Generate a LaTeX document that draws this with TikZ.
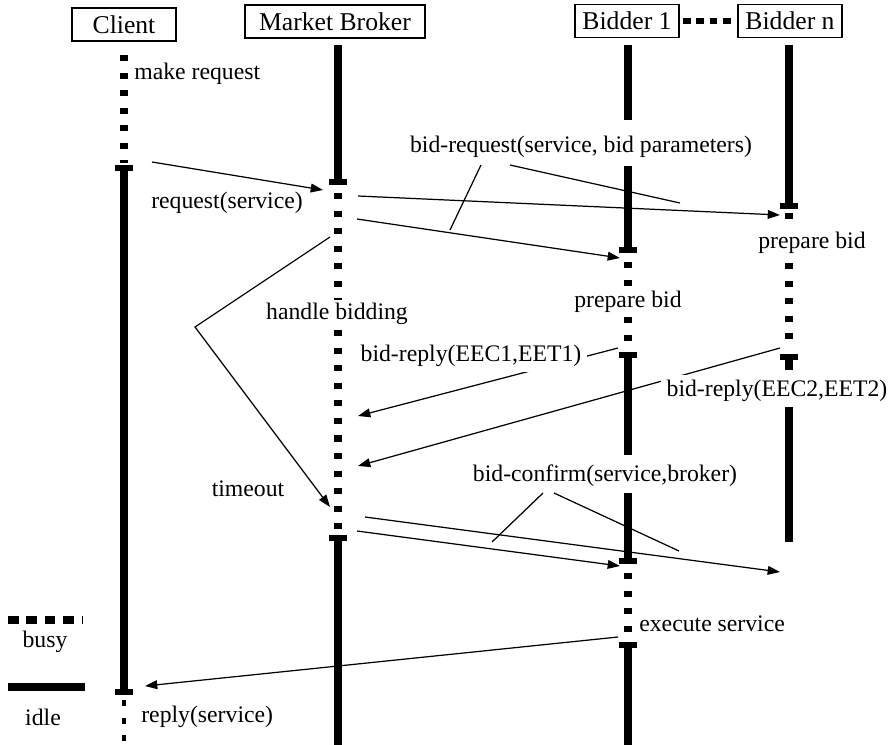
\documentclass[tikz,border=0pt]{standalone}
\usepackage{fontspec}
\setmainfont{Liberation Serif}
\usetikzlibrary{arrows.meta}

\begin{document}
\begin{tikzpicture}[
	x=0.02cm, y=-0.02cm,
	>={Triangle[length=7pt,width=5pt]},
	font=\fontsize{13.5}{16}\selectfont,
	head/.style={draw, line width=0.8pt, inner sep=0pt, minimum height=6.6mm,
		font=\fontsize{14.6}{17}\selectfont},
	idle/.style={line width=4pt},
	busy/.style={line width=4pt, dash pattern=on 3.5pt off 6.5pt},
	tbar/.style={line width=3.4pt},
	msg/.style={->, line width=0.7pt},
	hint/.style={line width=0.7pt},
	txt/.style={anchor=west, inner sep=0pt},
]
	\useasboundingbox (0,0) rectangle (894,745);
	% heads
	\node[head, minimum width=20.8mm] (client) at (124,24.5) {Client};
	\node[head, minimum width=36mm] (broker) at (335,21.5) {Market Broker};
	\node[head, minimum width=20.8mm] (bidA) at (627,21) {Bidder 1};
	\node[head, minimum width=20.8mm] (bidN) at (790,21) {Bidder n};
	\draw[busy, line width=3pt, dash pattern=on 4.5pt off 3pt,
		shorten <=2pt, shorten >=2pt] (bidA) -- (bidN);

	% lifelines
	\foreach \x/\a/\b in {124/168/692, 338/45/182, 338/538/745, 628/45/120,
		628/166/250, 628/355/455, 628/493/561, 628/645/745, 789/45/206,
		789/357/370, 789/407/542}
		\draw[idle] (\x,\a) -- (\x,\b);
	\foreach \x/\a/\b in {124/55/163, 338/193/300, 338/330/530, 628/262/288,
		628/317/345, 628/573/637, 789/213/228, 789/263/345}
		\draw[busy] (\x,\a) -- (\x,\b);
	\draw[busy, line width=1.8pt] (124,700) -- (124,745);
	\foreach \x/\y in {124/168, 124/692, 338/182, 338/538, 628/250, 628/355,
		628/561, 628/645, 789/206, 789/357}
		\draw[tbar] (\x-9,\y) -- (\x+9,\y);

	% messages
	\coordinate (req-s) at (152,162);
	\coordinate (req-e) at (323,190);
	\coordinate (rqN-s) at (358,196);
	\coordinate (rqN-e) at (780,215);
	\coordinate (rqA-s) at (357,219);
	\coordinate (rqA-e) at (620,258);
	\coordinate (to-s) at (330,237);
	\coordinate (to-m) at (195,327);
	\coordinate (to-e) at (330,507);
	\coordinate (rpA-s) at (618,348);
	\coordinate (rpA-e) at (358,416);
	\coordinate (rpN-s) at (780,348);
	\coordinate (rpN-e) at (358,466);
	\coordinate (cfN-s) at (365,517);
	\coordinate (cfN-e) at (780,572);
	\coordinate (cfA-s) at (357,531);
	\coordinate (cfA-e) at (620,566);
	\coordinate (rep-s) at (618,637);
	\coordinate (rep-e) at (145,686);
	\foreach \m in {req, rqN, rqA, rpA, rpN, cfN, cfA, rep}
		\draw[msg] (\m-s) -- (\m-e);
	\draw[msg] (to-s) -- (to-m) -- (to-e);

	% labels
	\node[txt] (mkreq) at (134,74) {make request};
	\node (req) at (227,203) {request(service)};
	\node (bidreq) at (581,147) {bid-request(service, bid parameters)};
	\node (prepN) at (812,243) {prepare bid};
	\node (prepA) at (628,302) {prepare bid};
	\node (handle) at (337,314) {handle bidding};
	\node[fill=white, inner sep=3pt] (replyA) at (471,356) {bid-reply(EEC1,EET1)};
	\node[fill=white, inner sep=3pt] (replyN) at (777,391) {bid-reply(EEC2,EET2)};
	\node (tmout) at (248,489) {timeout};
	\node (confirm) at (605,476) {bid-confirm(service,broker)};
	\node[txt] (exec) at (639,624) {execute service};
	\node[txt] (reply) at (141,717) {reply(service)};

	% pointers from labels
	\coordinate (bq-a) at (450,230);
	\coordinate (bq-b) at (680,203);
	\coordinate (cf-a) at (492,542);
	\coordinate (cf-b) at (679,551);
	\draw[hint] (481,165) -- (bq-a);
	\draw[hint] (510,165) -- (bq-b);
	\draw[hint] (543,493) -- (cf-a);
	\draw[hint] (554,493) -- (cf-b);

	% legend
	\coordinate (busy-l) at (8,620);
	\coordinate (busy-r) at (83,620);
	\coordinate (idle-l) at (8,687);
	\coordinate (idle-r) at (85,687);
	\draw[busy, dash pattern=on 6pt off 4.5pt] (busy-l) -- (busy-r);
	\draw[idle] (idle-l) -- (idle-r);
	\node (busylbl) at (45,642) {busy};
	\node (idlelbl) at (43,717) {idle};
\end{tikzpicture}
\end{document}
